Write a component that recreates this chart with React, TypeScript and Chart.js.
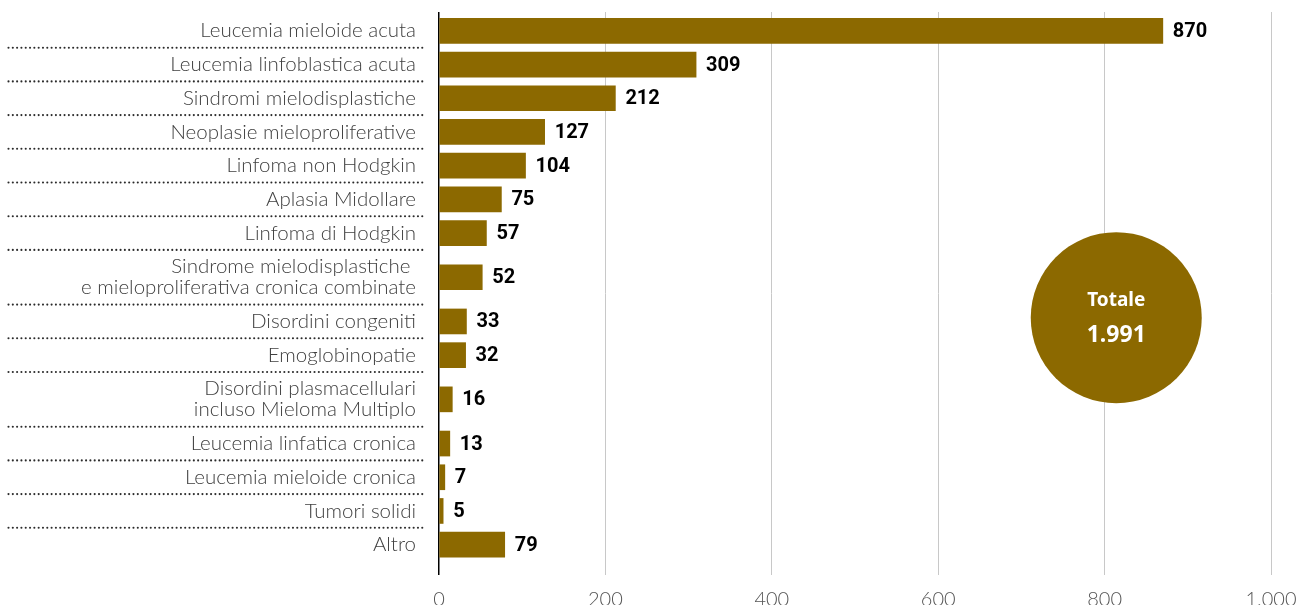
import React, { useEffect, useRef } from 'react';
import { Chart, registerables } from 'chart.js';

Chart.register(...registerables);

const categories: string[] = [
  'Leucemia mieloide acuta',
  'Leucemia linfoblastica acuta',
  'Sindromi mielodisplastiche',
  'Neoplasie mieloproliferative',
  'Linfoma non Hodgkin',
  'Aplasia Midollare',
  'Linfoma di Hodgkin',
  'Sindrome mielodisplastiche \ne mieloproliferativa cronica combinate',
  'Disordini congeniti',
  'Emoglobinopatie',
  'Disordini plasmacellulari\nincluso Mieloma Multiplo',
  'Leucemia linfatica cronica',
  'Leucemia mieloide cronica',
  'Tumori solidi',
  'Altro',
];
const values: number[] = [870, 309, 212, 127, 104, 75, 57, 52, 33, 32, 16, 13, 7, 5, 79];
const xTicks: number[] = [0, 200, 400, 600, 800, 1000];
const totalTitle = 'Totale';

// layout constants (pixels)
const ROW_H = 33.7;
const LINE_EXTRA = 21;
const ROW_START = 2;
const Y_MAX = 563;

const fmt = (v: number) => String(v).replace(/\B(?=(\d{3})+(?!\d))/g, '.');

export default function App() {
  const ref = useRef<HTMLCanvasElement | null>(null);

  useEffect(() => {
    if (!ref.current) return;
    const rowH = categories.map((c) => ROW_H + (c.split('\n').length - 1) * LINE_EXTRA);
    const centers: number[] = [];
    const bounds: number[] = [];
    let acc = ROW_START;
    rowH.forEach((h, i) => {
      if (i > 0) bounds.push(acc);
      centers.push(acc + h / 2);
      acc += h;
    });
    const total = values.reduce((a, b) => a + b, 0);

    const decor = {
      id: 'decor',
      afterDraw(chart: any) {
        const ctx = chart.ctx as CanvasRenderingContext2D;
        const ys = chart.scales.y;
        const ca = chart.chartArea;
        ctx.save();
        // category labels
        ctx.fillStyle = '#404040';
        ctx.font = '300 20.5px Lato';
        ctx.textAlign = 'right';
        ctx.textBaseline = 'middle';
        categories.forEach((c, i) => {
          const lines = c.split('\n');
          const cy = ys.getPixelForValue(centers[i]);
          lines.forEach((ln, j) => {
            const y = cy + (j - (lines.length - 1) / 2) * LINE_EXTRA;
            ctx.fillText(ln, 416, y);
          });
        });
        // dotted separators
        ctx.fillStyle = '#2a2a2a';
        bounds.forEach((b) => {
          const y = ys.getPixelForValue(b);
          for (let x = 8.5; x <= 423; x += 4.31) {
            ctx.beginPath();
            ctx.arc(x, y, 1.05, 0, Math.PI * 2);
            ctx.fill();
          }
        });
        // value labels
        const meta = chart.getDatasetMeta(0);
        ctx.fillStyle = '#000';
        ctx.font = 'bold 20px Roboto';
        ctx.textAlign = 'left';
        meta.data.forEach((el: any, i: number) => {
          ctx.fillText(String(values[i]), el.x + 10, el.y + 1);
        });
        // total circle
        const cx = ca.left + (ca.right - ca.left) * 0.814;
        const cy = ca.top + (ca.bottom - ca.top) * 0.543;
        ctx.fillStyle = '#8c6900';
        ctx.beginPath();
        ctx.arc(cx, cy, 85.5, 0, Math.PI * 2);
        ctx.fill();
        ctx.fillStyle = '#fff';
        ctx.textAlign = 'center';
        ctx.font = 'bold 19px "Noto Sans"';
        ctx.fillText(totalTitle, cx, cy - 17);
        ctx.font = 'bold 23px "Noto Sans"';
        ctx.fillText(fmt(total), cx, cy + 18);
        ctx.restore();
      },
    };

    const chart = new Chart(ref.current, {
      type: 'bar',
      data: {
        datasets: [
          {
            data: values.map((v, i) => ({ x: v, y: centers[i] })),
            backgroundColor: '#8c6900',
            barThickness: 25,
          } as any,
        ],
      },
      options: {
        indexAxis: 'y',
        animation: false,
        responsive: false,
        maintainAspectRatio: false,
        layout: { padding: { left: 439, right: 29, top: 12, bottom: 0 } },
        plugins: { legend: { display: false }, tooltip: { enabled: false } },
        scales: {
          x: {
            type: 'linear',
            position: 'bottom',
            min: 0,
            max: 1000,
            afterBuildTicks: (s: any) => {
              s.ticks = xTicks.map((v) => ({ value: v }));
            },
            afterFit: (s: any) => {
              s.height = 30;
              s.paddingLeft = 0;
              s.paddingRight = 0;
            },
            grid: {
              color: (c: any) => (c.tick && c.tick.value === 0 ? '#000' : '#c8c8c8'),
              lineWidth: (c: any) => (c.tick && c.tick.value === 0 ? 1.5 : 1),
              drawTicks: false,
            },
            border: { display: false },
            ticks: {
              padding: 13,
              color: '#555',
              font: { family: 'Lato', size: 20, weight: '300' as any },
              callback: (v: any) => fmt(Number(v)),
            },
          },
          y: {
            type: 'linear',
            reverse: true,
            offset: false,
            min: 0,
            max: Y_MAX,
            display: false,
          },
        },
      },
      plugins: [decor],
    });
    return () => chart.destroy();
  }, []);

  return (
    <div style={{ position: 'absolute', left: 0, top: 0, width: 1300, height: 605 }}>
      <canvas ref={ref} width={1300} height={605} style={{ display: 'block' }} />
    </div>
  );
}
